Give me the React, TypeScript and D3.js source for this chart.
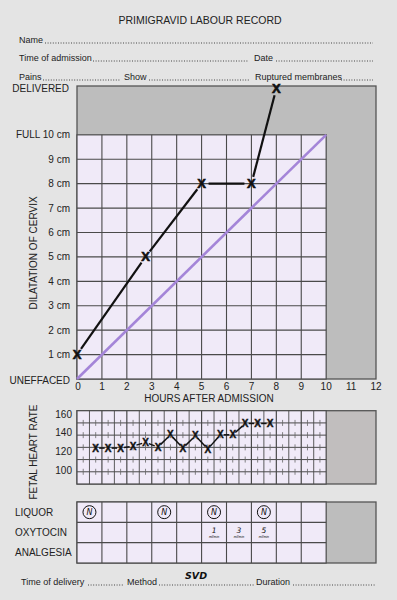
import * as d3 from 'd3'
import React from 'react'

// chart values
const hourTicks = [0, 1, 2, 3, 4, 5, 6, 7, 8, 9, 10, 11, 12]
const dilationTicks = [0, 1, 2, 3, 4, 5, 6, 7, 8, 9, 10]
const dilationLabels = ['UNEFFACED', '1 cm', '2 cm', '3 cm', '4 cm', '5 cm', '6 cm', '7 cm', '8 cm', '9 cm', 'FULL 10 cm']
const deliveredLevel = 11.9

const cervixHours = [0, 2.75, 5, 7, 8]
const cervixDilation = [1, 5, 8, 8, 11.9]

const alertHours = [0, 10]
const alertDilation = [0, 10]

const fhrTicks = [100, 120, 140, 160]
const fhrHours = [0.75, 1.25, 1.75, 2.25, 2.75, 3.25, 3.75, 4.25, 4.75, 5.25, 5.75, 6.25, 6.75, 7.25, 7.75]
const fhrValues = [124, 124, 124, 126, 130, 125, 138, 124, 137, 123, 138, 138, 150, 150, 150]

const tableRows = ['LIQUOR', 'OXYTOCIN', 'ANALGESIA']
const liquorHours = [0, 3, 5, 7]
const oxytocinHours = [5, 6, 7]
const oxytocinRates = ['1', '3', '5']

const font = '"Liberation Sans", Arial, sans-serif'
const hand = '"DejaVu Sans", sans-serif'
const ink = '#222'
const gridCol = '#4a4a4a'
const lav = '#f0eaf8'
const grey = '#bdbdbd'

function cut(x1: number, y1: number, x2: number, y2: number, g: number) {
  const dx = x2 - x1, dy = y2 - y1
  const len = Math.sqrt(dx * dx + dy * dy)
  const ux = dx / len, uy = dy / len
  return { x1: x1 + ux * g, y1: y1 + uy * g, x2: x2 - ux * g, y2: y2 - uy * g }
}

function Dots({ x1, x2, y }: { x1: number; x2: number; y: number }) {
  return <line x1={x1} x2={x2} y1={y} y2={y} stroke="#444" strokeWidth={1} strokeDasharray="1 1.6" />
}

export default function App() {
  const x = d3.scaleLinear().domain([0, 12]).range([77, 376])
  const y = d3.scaleLinear().domain([0, 12]).range([379, 86])

  const fhrY = d3.scaleLinear().domain([86, 163.5]).range([484, 410.7])
  const fhrTop = fhrY(163.5), fhrBot = fhrY(86)
  const fhrBands = d3.range(0, 7).map(i => fhrTop + (fhrBot - fhrTop) * i / 6)
  const halfHours = d3.range(0.5, 10, 0.5)
  const quarterHours = d3.range(0.25, 10, 0.5)

  const rowY = d3.scaleBand().domain(tableRows).range([502, 563])

  const cervixPts = cervixHours.map((h, i) => [x(h), y(cervixDilation[i])])
  const fhrPts = fhrHours.map((h, i) => [x(h), fhrY(fhrValues[i])])

  return (
    <div>
      <style>{'body{margin:0;background:#e4e4e4}'}</style>
      <svg width={397} height={600} style={{ display: 'block', fontFamily: font }}>
        <rect width={397} height={600} fill="#e4e4e4" />

        {/* header */}
        <text x={200} y={20} textAnchor="middle" dominantBaseline="central" fontSize={10.5} fill={ink}>PRIMIGRAVID LABOUR RECORD</text>
        <text x={19} y={40} dominantBaseline="central" fontSize={9} fill={ink}>Name</text>
        <Dots x1={45} x2={373} y={43} />
        <text x={19} y={58} dominantBaseline="central" fontSize={9} fill={ink}>Time of admission</text>
        <Dots x1={93} x2={248} y={61} />
        <text x={254} y={58} dominantBaseline="central" fontSize={9} fill={ink}>Date</text>
        <Dots x1={276} x2={373} y={61} />
        <text x={19} y={77} dominantBaseline="central" fontSize={9} fill={ink}>Pains</text>
        <Dots x1={43} x2={121} y={80} />
        <text x={124} y={77} dominantBaseline="central" fontSize={9} fill={ink}>Show</text>
        <Dots x1={149} x2={249} y={80} />
        <text x={255} y={77} dominantBaseline="central" fontSize={9} fill={ink}>Ruptured membranes</text>
        <Dots x1={341} x2={373} y={80} />

        {/* cervix chart */}
        <rect x={x(0)} y={y(12)} width={x(12) - x(0)} height={y(0) - y(12)} fill={grey} stroke="#555" strokeWidth={1.3} />
        <rect x={x(0)} y={y(10)} width={x(10) - x(0)} height={y(0) - y(10)} fill={lav} stroke={gridCol} strokeWidth={1.2} />
        {dilationTicks.slice(1, 10).map(d => (
          <line key={'h' + d} x1={x(0)} x2={x(10)} y1={y(d)} y2={y(d)} stroke={gridCol} strokeWidth={1.1} />
        ))}
        {hourTicks.slice(1, 10).map(h => (
          <line key={'v' + h} x1={x(h)} x2={x(h)} y1={y(10)} y2={y(0)} stroke={gridCol} strokeWidth={1.1} />
        ))}
        {hourTicks.map(h => (
          <text key={'xt' + h} x={x(h) + (h === 0 ? 1 : 0)} y={386} textAnchor="middle" dominantBaseline="central" fontSize={10} fill={ink}>{h}</text>
        ))}
        {dilationTicks.map((d, i) => (
          <text key={'yt' + d} x={70} y={y(d) + (d === 0 ? 1 : 0)} textAnchor="end" dominantBaseline="central" fontSize={10} fill={ink}>{dilationLabels[i]}</text>
        ))}
        <text x={69} y={y(deliveredLevel)} textAnchor="end" dominantBaseline="central" fontSize={10} fill={ink}>DELIVERED</text>
        <text x={209} y={398} textAnchor="middle" dominantBaseline="central" fontSize={10} fill={ink}>HOURS AFTER  ADMISSION</text>
        <text transform={`translate(33,253) rotate(-90)`} textAnchor="middle" dominantBaseline="central" fontSize={10} fill={ink}>DILATATION OF CERVIX</text>

        <line x1={x(alertHours[0])} y1={y(alertDilation[0])} x2={x(alertHours[1])} y2={y(alertDilation[1])} stroke="#a485d8" strokeWidth={2.6} />

        {cervixPts.slice(1).map((p, i) => {
          const s = cut(cervixPts[i][0], cervixPts[i][1], p[0], p[1], 7)
          return <line key={'cs' + i} {...s} stroke="#111" strokeWidth={2.2} />
        })}
        {cervixPts.map((p, i) => (
          <text key={'cx' + i} x={p[0]} y={p[1]} textAnchor="middle" dominantBaseline="central" fontSize={13} fontWeight="bold" fill="#111" stroke="#111" strokeWidth={0.6}>X</text>
        ))}

        {/* fetal heart rate */}
        <rect x={x(0)} y={fhrTop} width={x(12) - x(0)} height={fhrBot - fhrTop} fill="#c1bebe" stroke="#555" strokeWidth={1.3} />
        <rect x={x(0)} y={fhrTop} width={x(10) - x(0)} height={fhrBot - fhrTop} fill={lav} stroke={gridCol} strokeWidth={1.2} />
        {halfHours.map(h => (
          <line key={'fv' + h} x1={x(h)} x2={x(h)} y1={fhrTop} y2={fhrBot} stroke={gridCol} strokeWidth={Number.isInteger(h) ? 1.2 : 0.9} />
        ))}
        {fhrBands.slice(1, 6).map((b, i) => (
          <g key={'fb' + i}>
            <line x1={x(0)} x2={x(10)} y1={b} y2={b} stroke={gridCol} strokeWidth={1} />
            {quarterHours.map(q => (
              <line key={q} x1={x(q)} x2={x(q)} y1={b - 3} y2={b + 3} stroke="#666" strokeWidth={0.8} />
            ))}
          </g>
        ))}
        {fhrTicks.map(t => (
          <text key={'ft' + t} x={72} y={fhrY(t)} textAnchor="end" dominantBaseline="central" fontSize={10} fill={ink}>{t}</text>
        ))}
        <text transform={`translate(33,452) rotate(-90)`} textAnchor="middle" dominantBaseline="central" fontSize={10} fill={ink}>FETAL HEART RATE</text>
        {fhrPts.slice(1).map((p, i) => {
          const s = cut(fhrPts[i][0], fhrPts[i][1], p[0], p[1], 3.5)
          return <line key={'fs' + i} {...s} stroke="#111" strokeWidth={1.5} />
        })}
        {fhrPts.map((p, i) => (
          <text key={'fx' + i} x={p[0]} y={p[1]} textAnchor="middle" dominantBaseline="central" fontSize={10} fontWeight="bold" fill="#111" stroke="#111" strokeWidth={0.4}>X</text>
        ))}

        {/* liquor / oxytocin / analgesia */}
        <rect x={x(0)} y={502} width={x(12) - x(0)} height={61} fill={grey} stroke="#555" strokeWidth={1.3} />
        <rect x={x(0)} y={502} width={x(10) - x(0)} height={61} fill={lav} stroke={gridCol} strokeWidth={1.2} />
        {tableRows.slice(1).map(r => (
          <line key={'tr' + r} x1={x(0)} x2={x(10)} y1={rowY(r)!} y2={rowY(r)!} stroke={gridCol} strokeWidth={1.1} />
        ))}
        {hourTicks.slice(1, 10).map(h => (
          <line key={'tc' + h} x1={x(h)} x2={x(h)} y1={502} y2={563} stroke={gridCol} strokeWidth={1.1} />
        ))}
        {tableRows.map(r => (
          <text key={'tl' + r} x={15} y={rowY(r)! + rowY.bandwidth() / 2} dominantBaseline="central" fontSize={10} fill={ink}>{r}</text>
        ))}
        {liquorHours.map(h => {
          const cx = x(h + 0.5), cy = rowY('LIQUOR')! + rowY.bandwidth() / 2
          return (
            <g key={'lq' + h}>
              <circle cx={cx} cy={cy} r={6.5} fill="none" stroke="#111" strokeWidth={1} />
              <text x={cx} y={cy} textAnchor="middle" dominantBaseline="central" fontSize={8} fontStyle="italic" fontFamily={hand} fill="#111">N</text>
            </g>
          )
        })}
        {oxytocinHours.map((h, i) => {
          const cx = x(h + 0.5), cy = rowY('OXYTOCIN')! + rowY.bandwidth() / 2
          return (
            <g key={'ox' + h}>
              <text x={cx} y={cy - 2.5} textAnchor="middle" dominantBaseline="central" fontSize={7.5} fontStyle="italic" fontFamily={hand} fill="#111">{oxytocinRates[i]}</text>
              <text x={cx} y={cy + 4} textAnchor="middle" dominantBaseline="central" fontSize={3.5} fontStyle="italic" fill="#111">ml/min</text>
            </g>
          )
        })}

        {/* footer */}
        <text x={21} y={582} dominantBaseline="central" fontSize={9} fill={ink}>Time of delivery</text>
        <Dots x1={88} x2={123} y={585} />
        <text x={127} y={582} dominantBaseline="central" fontSize={9} fill={ink}>Method</text>
        <Dots x1={159} x2={254} y={585} />
        <text x={185} y={575} dominantBaseline="central" fontSize={9.5} fontStyle="italic" fontWeight="bold" fontFamily={hand} fill="#111">SVD</text>
        <text x={256} y={582} dominantBaseline="central" fontSize={9} fill={ink}>Duration</text>
        <Dots x1={293} x2={375} y={585} />
      </svg>
    </div>
  )
}
